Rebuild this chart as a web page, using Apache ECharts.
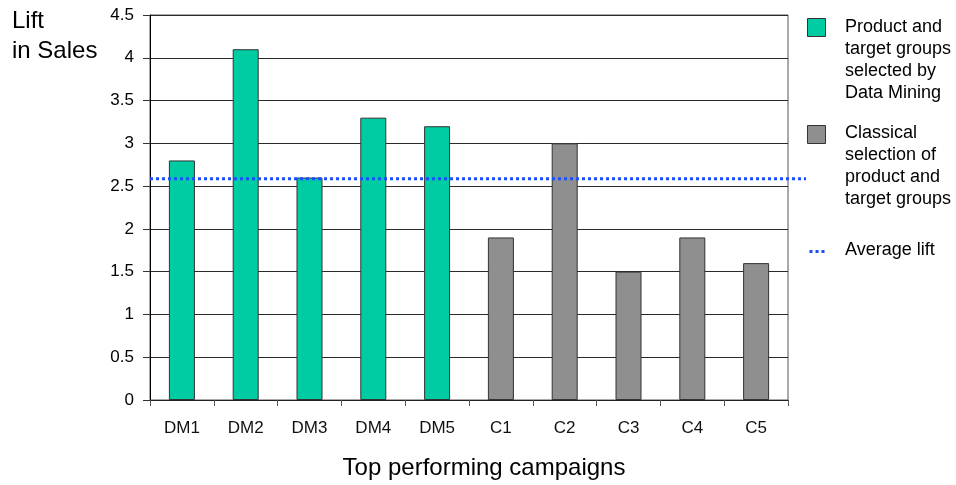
<!DOCTYPE html>
<html>
<head>
<meta charset="utf-8">
<script src="https://cdn.jsdelivr.net/npm/echarts@6/dist/echarts.min.js"></script>
<style>
  html, body { margin: 0; padding: 0; background: #fff; overflow: hidden; }
  #chart { width: 956px; height: 485px; }
</style>
</head>
<body>
<div id="chart"></div>
<script>
// Campaign lift values
const categories = ['DM1', 'DM2', 'DM3', 'DM4', 'DM5', 'C1', 'C2', 'C3', 'C4', 'C5'];
const dataMiningLift = [2.8, 4.1, 2.6, 3.3, 3.2, null, null, null, null, null];
const classicalLift = [null, null, null, null, null, 1.9, 3.0, 1.5, 1.9, 1.6];
const averageLift = 2.6;
const yTicks = [0, 0.5, 1, 1.5, 2, 2.5, 3, 3.5, 4, 4.5];

const legendDM = ['Product and', 'target groups', 'selected by', 'Data Mining'];
const legendClassical = ['Classical', 'selection of', 'product and', 'target groups'];
const legendAvg = 'Average lift';

const FONT = '"Liberation Sans", Arial, sans-serif';
const TEAL = '#00CCA3';
const GRAY = '#8F8F8F';
const BLUE = '#1A4DFF';

const chart = echarts.init(document.getElementById('chart'), null, { width: 956, height: 485 });

const gridTop = 15, gridHeight = 388;

function legendText(lines, top) {
  return {
    type: 'text', left: 845, top: top,
    style: { text: lines.join('\n'), font: '18px ' + FONT, fill: '#000', lineHeight: 22 }
  };
}

chart.setOption({
  animation: false,
  textStyle: { fontFamily: FONT },
  grid: [
    { left: 150, width: 638, top: gridTop, height: gridHeight, show: true, borderColor: '#555', borderWidth: 1 },
    { left: 150, width: 656, top: gridTop, height: gridHeight }
  ],
  xAxis: [
    {
      type: 'category', data: categories, gridIndex: 0,
      axisLine: { lineStyle: { color: '#222', width: 1 } },
      axisTick: { show: true, length: 6, lineStyle: { color: '#555' } },
      axisLabel: { color: '#111', fontSize: 17, margin: 20, fontFamily: FONT },
      name: 'Top performing campaigns', nameLocation: 'middle', nameGap: 56,
      nameTextStyle: { fontSize: 24, color: '#000', fontFamily: FONT, padding: [0, 0, 0, 30] }
    },
    { type: 'value', gridIndex: 1, min: 0, max: 1, show: false }
  ],
  yAxis: [
    {
      type: 'value', gridIndex: 0, min: 0, max: 4.5, interval: 0.5,
      axisLine: { show: true, lineStyle: { color: '#000', width: 1 } },
      axisTick: { show: true, length: 7, lineStyle: { color: '#333' } },
      axisLabel: { color: '#000', fontSize: 17, margin: 16, fontFamily: FONT,
        formatter: v => yTicks.includes(v) ? String(v) : '' },
      splitLine: { show: true, lineStyle: { color: '#2a2a2a', width: 1 } }
    },
    { type: 'value', gridIndex: 1, min: 0, max: 4.5, show: false }
  ],
  series: [
    {
      type: 'bar', name: 'Data Mining', data: dataMiningLift, xAxisIndex: 0, yAxisIndex: 0,
      barWidth: 26, barGap: '-100%',
      itemStyle: { color: TEAL, borderColor: '#333', borderWidth: 1 }
    },
    {
      type: 'bar', name: 'Classical', data: classicalLift, xAxisIndex: 0, yAxisIndex: 0,
      barWidth: 26, barGap: '-100%',
      itemStyle: { color: GRAY, borderColor: '#333', borderWidth: 1 }
    },
    {
      type: 'line', name: 'Average lift', xAxisIndex: 1, yAxisIndex: 1,
      data: [[0, averageLift], [1, averageLift]], symbol: 'none', z: 5,
      lineStyle: { color: BLUE, width: 3, type: [3, 3] }
    }
  ],
  graphic: [
    { type: 'text', left: 12, top: 6,
      style: { text: 'Lift\nin Sales', font: '24px ' + FONT, fill: '#000', lineHeight: 30 } },
    { type: 'rect', left: 807, top: 18, shape: { width: 18, height: 18 },
      style: { fill: TEAL, stroke: '#333', lineWidth: 1 } },
    legendText(legendDM, 16),
    { type: 'rect', left: 807, top: 125, shape: { width: 18, height: 18 },
      style: { fill: GRAY, stroke: '#333', lineWidth: 1 } },
    legendText(legendClassical, 122),
    { type: 'line', left: 807, top: 249, shape: { x1: 0, y1: 0, x2: 16, y2: 0 },
      style: { stroke: BLUE, lineWidth: 3, lineDash: [3, 3] } },
    { type: 'text', left: 845, top: 239, style: { text: legendAvg, font: '18px ' + FONT, fill: '#000', lineHeight: 22 } }
  ]
});
</script>
</body>
</html>
